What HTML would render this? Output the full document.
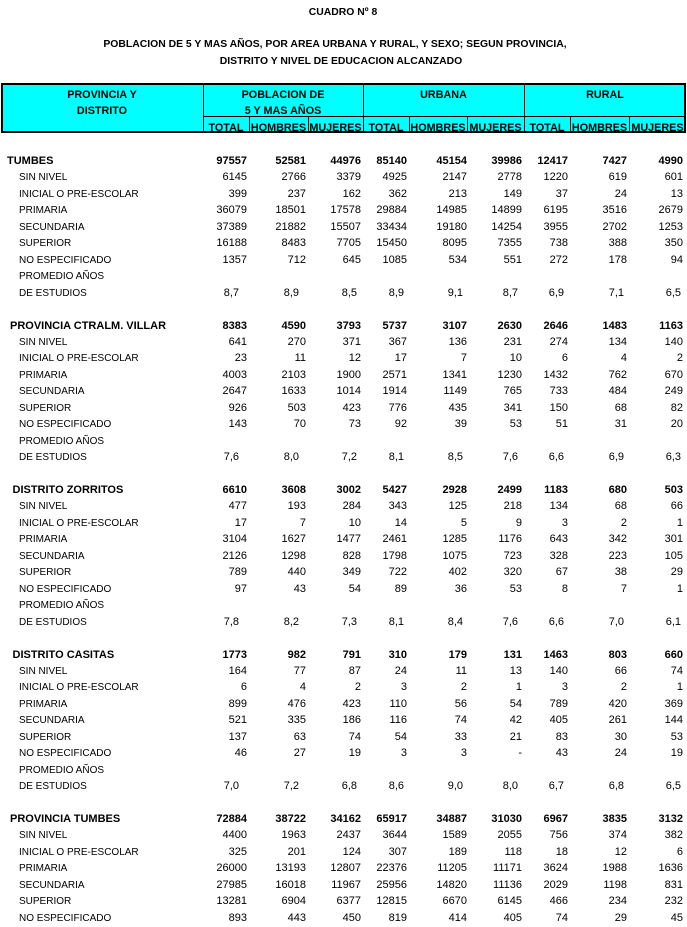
<!DOCTYPE html>
<html><head><meta charset="utf-8">
<style>
html,body{margin:0;padding:0}
body{width:687px;height:925px;background:#fff;position:relative;overflow:hidden;font-family:"Liberation Sans",Arial,sans-serif;color:#000}
.t{position:absolute;left:0;text-align:center;font-weight:bold;font-size:10.4px;line-height:14px;white-space:nowrap}
.box{position:absolute;left:1px;top:83px;width:685px;height:50px;box-sizing:border-box;border:2px solid #000;background:#00ffff}
.hl{position:absolute;background:#000}
.h{position:absolute;text-align:center;font-weight:bold;font-size:10.8px;line-height:16px;white-space:nowrap}
.r{position:absolute;left:0;width:687px;height:16px;line-height:16px;white-space:nowrap}
.r span{position:absolute;top:0;font-size:11px}
.r span.l{left:19px;font-size:10px;top:1px}
.b span{font-weight:bold}
.r.b span.l{font-size:11px;top:0}
.r span:nth-child(2){right:440px}
.r span:nth-child(3){right:381px}
.r span:nth-child(4){right:326px}
.r span:nth-child(5){right:280px}
.r span:nth-child(6){right:220px}
.r span:nth-child(7){right:165px}
.r span:nth-child(8){right:119px}
.r span:nth-child(9){right:60px}
.r span:nth-child(10){right:4px}
.d span:nth-child(2){right:448px}
.d span:nth-child(3){right:388px}
.d span:nth-child(4){right:330px}
.d span:nth-child(5){right:283px}
.d span:nth-child(6){right:224px}
.d span:nth-child(7){right:169px}
.d span:nth-child(8){right:123px}
.d span:nth-child(9){right:63px}
.d span:nth-child(10){right:6px}
</style></head>
<body>
<div class="t" style="top:5.5px;width:686px">CUADRO Nº 8</div>
<div class="t" style="top:38px;width:670px">POBLACION DE 5 Y MAS AÑOS, POR AREA URBANA Y RURAL, Y SEXO; SEGUN PROVINCIA,</div>
<div class="t" style="top:55px;width:682px">DISTRITO Y NIVEL DE EDUCACION ALCANZADO</div>

<div class="box"></div>
<div class="hl" style="left:203px;top:84px;width:1px;height:49px"></div>
<div class="hl" style="left:363px;top:84px;width:1px;height:49px"></div>
<div class="hl" style="left:524px;top:84px;width:1px;height:49px"></div>
<div class="hl" style="left:203px;top:116px;width:482px;height:1px"></div>
<div class="hl" style="left:249px;top:116px;width:1px;height:17px"></div>
<div class="hl" style="left:308px;top:116px;width:1px;height:17px"></div>
<div class="hl" style="left:409px;top:116px;width:1px;height:17px"></div>
<div class="hl" style="left:467px;top:116px;width:1px;height:17px"></div>
<div class="hl" style="left:570px;top:116px;width:1px;height:17px"></div>
<div class="hl" style="left:629px;top:116px;width:1px;height:17px"></div>

<div class="h" style="left:1px;width:202px;top:87px">PROVINCIA Y</div>
<div class="h" style="left:1px;width:202px;top:103px">DISTRITO</div>
<div class="h" style="left:203px;width:160px;top:87px">POBLACION DE</div>
<div class="h" style="left:203px;width:160px;top:103px">5 Y MAS AÑOS</div>
<div class="h" style="left:363px;width:161px;top:87px">URBANA</div>
<div class="h" style="left:524px;width:162px;top:87px">RURAL</div>
<div class="h" style="left:203px;width:46px;top:119.5px">TOTAL</div>
<div class="h" style="left:249px;width:59px;top:119.5px">HOMBRES</div>
<div class="h" style="left:308px;width:55px;top:119.5px">MUJERES</div>
<div class="h" style="left:363px;width:46px;top:119.5px">TOTAL</div>
<div class="h" style="left:409px;width:58px;top:119.5px">HOMBRES</div>
<div class="h" style="left:467px;width:57px;top:119.5px">MUJERES</div>
<div class="h" style="left:524px;width:46px;top:119.5px">TOTAL</div>
<div class="h" style="left:570px;width:59px;top:119.5px">HOMBRES</div>
<div class="h" style="left:629px;width:57px;top:119.5px">MUJERES</div>

<!-- TUMBES -->
<div class="r b" style="top:153px"><span class="l" style="left:7px">TUMBES</span><span>97557</span><span>52581</span><span>44976</span><span>85140</span><span>45154</span><span>39986</span><span>12417</span><span>7427</span><span>4990</span></div>
<div class="r" style="top:169.45px"><span class="l">SIN NIVEL</span><span>6145</span><span>2766</span><span>3379</span><span>4925</span><span>2147</span><span>2778</span><span>1220</span><span>619</span><span>601</span></div>
<div class="r" style="top:185.9px"><span class="l">INICIAL O PRE-ESCOLAR</span><span>399</span><span>237</span><span>162</span><span>362</span><span>213</span><span>149</span><span>37</span><span>24</span><span>13</span></div>
<div class="r" style="top:202.35px"><span class="l">PRIMARIA</span><span>36079</span><span>18501</span><span>17578</span><span>29884</span><span>14985</span><span>14899</span><span>6195</span><span>3516</span><span>2679</span></div>
<div class="r" style="top:218.8px"><span class="l">SECUNDARIA</span><span>37389</span><span>21882</span><span>15507</span><span>33434</span><span>19180</span><span>14254</span><span>3955</span><span>2702</span><span>1253</span></div>
<div class="r" style="top:235.25px"><span class="l">SUPERIOR</span><span>16188</span><span>8483</span><span>7705</span><span>15450</span><span>8095</span><span>7355</span><span>738</span><span>388</span><span>350</span></div>
<div class="r" style="top:251.7px"><span class="l">NO ESPECIFICADO</span><span>1357</span><span>712</span><span>645</span><span>1085</span><span>534</span><span>551</span><span>272</span><span>178</span><span>94</span></div>
<div class="r" style="top:268.15px"><span class="l">PROMEDIO AÑOS</span></div>
<div class="r d" style="top:284.6px"><span class="l">DE ESTUDIOS</span><span>8,7</span><span>8,9</span><span>8,5</span><span>8,9</span><span>9,1</span><span>8,7</span><span>6,9</span><span>7,1</span><span>6,5</span></div>

<!-- PROVINCIA CTRALM. VILLAR -->
<div class="r b" style="top:317.5px"><span class="l" style="left:10px">PROVINCIA CTRALM. VILLAR</span><span>8383</span><span>4590</span><span>3793</span><span>5737</span><span>3107</span><span>2630</span><span>2646</span><span>1483</span><span>1163</span></div>
<div class="r" style="top:333.95px"><span class="l">SIN NIVEL</span><span>641</span><span>270</span><span>371</span><span>367</span><span>136</span><span>231</span><span>274</span><span>134</span><span>140</span></div>
<div class="r" style="top:350.4px"><span class="l">INICIAL O PRE-ESCOLAR</span><span>23</span><span>11</span><span>12</span><span>17</span><span>7</span><span>10</span><span>6</span><span>4</span><span>2</span></div>
<div class="r" style="top:366.85px"><span class="l">PRIMARIA</span><span>4003</span><span>2103</span><span>1900</span><span>2571</span><span>1341</span><span>1230</span><span>1432</span><span>762</span><span>670</span></div>
<div class="r" style="top:383.3px"><span class="l">SECUNDARIA</span><span>2647</span><span>1633</span><span>1014</span><span>1914</span><span>1149</span><span>765</span><span>733</span><span>484</span><span>249</span></div>
<div class="r" style="top:399.75px"><span class="l">SUPERIOR</span><span>926</span><span>503</span><span>423</span><span>776</span><span>435</span><span>341</span><span>150</span><span>68</span><span>82</span></div>
<div class="r" style="top:416.2px"><span class="l">NO ESPECIFICADO</span><span>143</span><span>70</span><span>73</span><span>92</span><span>39</span><span>53</span><span>51</span><span>31</span><span>20</span></div>
<div class="r" style="top:432.65px"><span class="l">PROMEDIO AÑOS</span></div>
<div class="r d" style="top:449.1px"><span class="l">DE ESTUDIOS</span><span>7,6</span><span>8,0</span><span>7,2</span><span>8,1</span><span>8,5</span><span>7,6</span><span>6,6</span><span>6,9</span><span>6,3</span></div>

<!-- DISTRITO ZORRITOS -->
<div class="r b" style="top:482px"><span class="l" style="left:12.5px">DISTRITO ZORRITOS</span><span>6610</span><span>3608</span><span>3002</span><span>5427</span><span>2928</span><span>2499</span><span>1183</span><span>680</span><span>503</span></div>
<div class="r" style="top:498.45px"><span class="l">SIN NIVEL</span><span>477</span><span>193</span><span>284</span><span>343</span><span>125</span><span>218</span><span>134</span><span>68</span><span>66</span></div>
<div class="r" style="top:514.9px"><span class="l">INICIAL O PRE-ESCOLAR</span><span>17</span><span>7</span><span>10</span><span>14</span><span>5</span><span>9</span><span>3</span><span>2</span><span>1</span></div>
<div class="r" style="top:531.35px"><span class="l">PRIMARIA</span><span>3104</span><span>1627</span><span>1477</span><span>2461</span><span>1285</span><span>1176</span><span>643</span><span>342</span><span>301</span></div>
<div class="r" style="top:547.8px"><span class="l">SECUNDARIA</span><span>2126</span><span>1298</span><span>828</span><span>1798</span><span>1075</span><span>723</span><span>328</span><span>223</span><span>105</span></div>
<div class="r" style="top:564.25px"><span class="l">SUPERIOR</span><span>789</span><span>440</span><span>349</span><span>722</span><span>402</span><span>320</span><span>67</span><span>38</span><span>29</span></div>
<div class="r" style="top:580.7px"><span class="l">NO ESPECIFICADO</span><span>97</span><span>43</span><span>54</span><span>89</span><span>36</span><span>53</span><span>8</span><span>7</span><span>1</span></div>
<div class="r" style="top:597.15px"><span class="l">PROMEDIO AÑOS</span></div>
<div class="r d" style="top:613.6px"><span class="l">DE ESTUDIOS</span><span>7,8</span><span>8,2</span><span>7,3</span><span>8,1</span><span>8,4</span><span>7,6</span><span>6,6</span><span>7,0</span><span>6,1</span></div>

<!-- DISTRITO CASITAS -->
<div class="r b" style="top:646.5px"><span class="l" style="left:12.5px">DISTRITO CASITAS</span><span>1773</span><span>982</span><span>791</span><span>310</span><span>179</span><span>131</span><span>1463</span><span>803</span><span>660</span></div>
<div class="r" style="top:662.95px"><span class="l">SIN NIVEL</span><span>164</span><span>77</span><span>87</span><span>24</span><span>11</span><span>13</span><span>140</span><span>66</span><span>74</span></div>
<div class="r" style="top:679.4px"><span class="l">INICIAL O PRE-ESCOLAR</span><span>6</span><span>4</span><span>2</span><span>3</span><span>2</span><span>1</span><span>3</span><span>2</span><span>1</span></div>
<div class="r" style="top:695.85px"><span class="l">PRIMARIA</span><span>899</span><span>476</span><span>423</span><span>110</span><span>56</span><span>54</span><span>789</span><span>420</span><span>369</span></div>
<div class="r" style="top:712.3px"><span class="l">SECUNDARIA</span><span>521</span><span>335</span><span>186</span><span>116</span><span>74</span><span>42</span><span>405</span><span>261</span><span>144</span></div>
<div class="r" style="top:728.75px"><span class="l">SUPERIOR</span><span>137</span><span>63</span><span>74</span><span>54</span><span>33</span><span>21</span><span>83</span><span>30</span><span>53</span></div>
<div class="r" style="top:745.2px"><span class="l">NO ESPECIFICADO</span><span>46</span><span>27</span><span>19</span><span>3</span><span>3</span><span>-</span><span>43</span><span>24</span><span>19</span></div>
<div class="r" style="top:761.65px"><span class="l">PROMEDIO AÑOS</span></div>
<div class="r d" style="top:778.1px"><span class="l">DE ESTUDIOS</span><span>7,0</span><span>7,2</span><span>6,8</span><span>8,6</span><span>9,0</span><span>8,0</span><span>6,7</span><span>6,8</span><span>6,5</span></div>

<!-- PROVINCIA TUMBES -->
<div class="r b" style="top:811px"><span class="l" style="left:10px">PROVINCIA TUMBES</span><span>72884</span><span>38722</span><span>34162</span><span>65917</span><span>34887</span><span>31030</span><span>6967</span><span>3835</span><span>3132</span></div>
<div class="r" style="top:827.45px"><span class="l">SIN NIVEL</span><span>4400</span><span>1963</span><span>2437</span><span>3644</span><span>1589</span><span>2055</span><span>756</span><span>374</span><span>382</span></div>
<div class="r" style="top:843.9px"><span class="l">INICIAL O PRE-ESCOLAR</span><span>325</span><span>201</span><span>124</span><span>307</span><span>189</span><span>118</span><span>18</span><span>12</span><span>6</span></div>
<div class="r" style="top:860.35px"><span class="l">PRIMARIA</span><span>26000</span><span>13193</span><span>12807</span><span>22376</span><span>11205</span><span>11171</span><span>3624</span><span>1988</span><span>1636</span></div>
<div class="r" style="top:876.8px"><span class="l">SECUNDARIA</span><span>27985</span><span>16018</span><span>11967</span><span>25956</span><span>14820</span><span>11136</span><span>2029</span><span>1198</span><span>831</span></div>
<div class="r" style="top:893.25px"><span class="l">SUPERIOR</span><span>13281</span><span>6904</span><span>6377</span><span>12815</span><span>6670</span><span>6145</span><span>466</span><span>234</span><span>232</span></div>
<div class="r" style="top:909.7px"><span class="l">NO ESPECIFICADO</span><span>893</span><span>443</span><span>450</span><span>819</span><span>414</span><span>405</span><span>74</span><span>29</span><span>45</span></div>
</body></html>
